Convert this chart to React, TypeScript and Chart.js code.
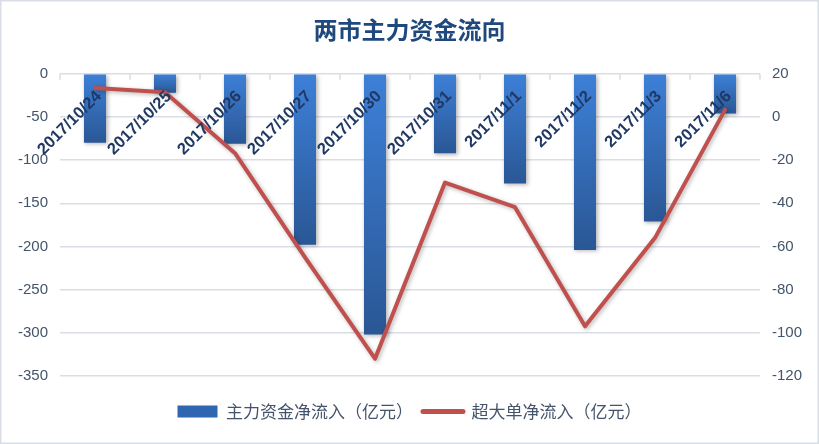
import React, { useEffect, useRef } from 'react';
import { Chart, registerables } from 'chart.js';

Chart.register(...registerables);

const categories: string[] = [
  '2017/10/24', '2017/10/25', '2017/10/26', '2017/10/27', '2017/10/30',
  '2017/10/31', '2017/11/1', '2017/11/2', '2017/11/3', '2017/11/6',
];
const mainNetInflow: number[] = [-80, -22, -81, -198, -302, -92, -127, -204, -171, -46];
const superLargeNetInflow: number[] = [13.4, 11.5, -16.8, -65, -112, -30.4, -41.8, -97, -56, 3.3];

const seriesNames: string[] = ['主力资金净流入（亿元）', '超大单净流入（亿元）'];
const titleText = '两市主力资金流向';

const leftMin = -350;
const leftMax = 0;
const leftStep = 50;
const rightMin = -120;
const rightMax = 20;
const rightStep = 20;

const tickColor = '#44546A';
const gridColor = '#D9DEE6';

const backgroundPlugin = {
  id: 'bgBorder',
  beforeDraw(chart: any) {
    const { ctx, width, height } = chart;
    ctx.save();
    ctx.fillStyle = '#FFFFFF';
    ctx.fillRect(0, 0, width, height);
    ctx.strokeStyle = '#D9DEE6';
    ctx.lineWidth = 1.5;
    ctx.strokeRect(0.75, 0.75, width - 1.5, height - 1.5);
    ctx.restore();
  },
};

const shadowPlugin = {
  id: 'softShadow',
  beforeDatasetDraw(chart: any) {
    const c = chart.ctx;
    c.save();
    c.shadowColor = 'rgba(0,0,0,0.28)';
    c.shadowBlur = 4;
    c.shadowOffsetX = 1.5;
    c.shadowOffsetY = 1.5;
  },
  afterDatasetDraw(chart: any) {
    chart.ctx.restore();
  },
};

const categoryLabelPlugin = {
  id: 'categoryLabels',
  beforeDatasetsDraw(chart: any) {
    const { ctx, chartArea } = chart;
    const x = chart.scales.x;
    const step = x.getPixelForValue(1) - x.getPixelForValue(0);
    ctx.save();
    ctx.strokeStyle = gridColor;
    ctx.lineWidth = 1.5;
    for (let i = 0; i <= categories.length; i++) {
      const px = x.getPixelForValue(i) - step / 2;
      ctx.beginPath();
      ctx.moveTo(px, chartArea.top);
      ctx.lineTo(px, chartArea.top + 6);
      ctx.stroke();
    }
    ctx.restore();
  },
  afterDatasetsDraw(chart: any) {
    const { ctx, chartArea } = chart;
    const x = chart.scales.x;
    ctx.save();
    ctx.font = 'bold 16.5px "Liberation Sans", "DejaVu Sans", sans-serif';
    ctx.fillStyle = '#1F3864';
    ctx.textAlign = 'right';
    ctx.textBaseline = 'middle';
    categories.forEach((c, i) => {
      const px = x.getPixelForValue(i);
      ctx.save();
      ctx.translate(px + 4, chartArea.top + 20);
      ctx.rotate(-Math.PI / 4);
      ctx.fillText(c, 0, 0);
      ctx.restore();
    });
    ctx.restore();
  },
};

export default function App() {
  const ref = useRef<HTMLCanvasElement | null>(null);

  useEffect(() => {
    document.body.style.margin = '0';
    const canvas = ref.current;
    if (!canvas) return;

    const chart = new Chart(canvas, {
      type: 'bar',
      data: {
        labels: categories,
        datasets: [
          {
            type: 'bar',
            label: seriesNames[0],
            data: mainNetInflow,
            yAxisID: 'y',
            order: 1,
            categoryPercentage: 1,
            barPercentage: 0.315,
            borderWidth: 0,
            backgroundColor: (context: any) => {
              const ch = context.chart;
              const yScale = ch.scales.y;
              if (!ch.chartArea || !yScale || context.type !== 'data') return '#2F66B2';
              const v = context.raw as number;
              const y0 = yScale.getPixelForValue(0);
              const y1 = yScale.getPixelForValue(v);
              if (!isFinite(y0) || !isFinite(y1) || y0 === y1) return '#2F66B2';
              const g = ch.ctx.createLinearGradient(0, y0, 0, y1);
              g.addColorStop(0, '#3D80D8');
              g.addColorStop(1, '#2A5795');
              return g;
            },
          } as any,
          {
            type: 'line',
            label: seriesNames[1],
            data: superLargeNetInflow,
            yAxisID: 'y1',
            order: 0,
            borderColor: '#C0504D',
            backgroundColor: '#C0504D',
            borderWidth: 4,
            pointRadius: 0,
            pointHoverRadius: 0,
            tension: 0,
            borderJoinStyle: 'round',
            borderCapStyle: 'round',
          } as any,
        ],
      },
      options: {
        responsive: false,
        animation: false,
        events: [],
        layout: { padding: { left: 0, right: 0, top: 0, bottom: 14 } },
        plugins: {
          title: {
            display: true,
            text: titleText,
            color: '#1F497D',
            font: { family: '"Noto Sans CJK SC", sans-serif', size: 24, weight: 'bold' },
            padding: { top: 15, bottom: 30 },
          },
          legend: {
            display: true,
            position: 'bottom',
            labels: {
              color: tickColor,
              font: { family: '"Noto Sans CJK SC", sans-serif', size: 17 },
              usePointStyle: true,
              pointStyleWidth: 40,
              boxHeight: 12,
              padding: 10,
              generateLabels: (ch: any) => {
                const items = Chart.defaults.plugins.legend.labels.generateLabels(ch);
                items.sort((a: any, b: any) => a.datasetIndex - b.datasetIndex);
                items.forEach((it: any) => {
                  if (it.datasetIndex === 0) {
                    it.pointStyle = 'rect';
                    it.fillStyle = '#2F66B2';
                    it.strokeStyle = '#2F66B2';
                    it.lineWidth = 0;
                  } else {
                    it.pointStyle = 'line';
                    it.strokeStyle = '#C0504D';
                    it.fillStyle = '#C0504D';
                    it.lineWidth = 5;
                    it.lineCap = 'round';
                  }
                });
                return items;
              },
            },
          },
          tooltip: { enabled: false },
        },
        scales: {
          x: {
            type: 'category',
            position: 'bottom',
            grid: { display: false, drawTicks: false },
            border: { display: false },
            ticks: { display: false },
            afterFit: (scale: any) => {
              scale.height = 17;
            },
          },
          y: {
            type: 'linear',
            position: 'left',
            min: leftMin,
            max: leftMax,
            ticks: {
              stepSize: leftStep,
              color: tickColor,
              padding: 12,
              font: { family: '"Liberation Sans", sans-serif', size: 15 },
            },
            grid: { color: gridColor, lineWidth: 1.5, drawTicks: false },
            border: { display: false },
            afterFit: (scale: any) => {
              scale.width = 60;
            },
          },
          y1: {
            type: 'linear',
            position: 'right',
            min: rightMin,
            max: rightMax,
            ticks: {
              stepSize: rightStep,
              color: tickColor,
              padding: 12,
              font: { family: '"Liberation Sans", sans-serif', size: 15 },
            },
            grid: { display: false, drawTicks: false },
            border: { display: false },
            afterFit: (scale: any) => {
              scale.width = 59;
            },
          },
        },
      },
      plugins: [backgroundPlugin, categoryLabelPlugin, shadowPlugin],
    } as any);

    return () => {
      chart.destroy();
    };
  }, []);

  return (
    <div style={{ width: 819, height: 444 }}>
      <canvas ref={ref} width={819} height={444} style={{ display: 'block' }} />
    </div>
  );
}
